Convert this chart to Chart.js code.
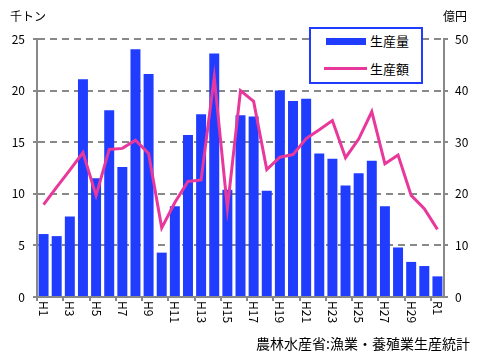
<!DOCTYPE html>
<html>
<head>
<meta charset="utf-8">
<script src="https://cdn.jsdelivr.net/npm/chart.js@4.4.1/dist/chart.umd.min.js"></script>
<style>
  html, body { margin: 0; padding: 0; background: #fff; }
  .wrap { position: relative; width: 480px; height: 360px; font-family: 'Noto Sans CJK JP', sans-serif; color: #000; }
  canvas { position: absolute; left: 0; top: 0; }
  .unit { position: absolute; top: 8px; font-size: 12px; line-height: 16px; }
  .legend { position: absolute; left: 309px; top: 27px; width: 110px; height: 53px; border: 2px solid #1f3cff; background: #fff; }
  .legend .sw { position: absolute; }
  .legend .txt { position: absolute; left: 59px; font-size: 13px; line-height: 18px; }
  .source { position: absolute; right: 10px; top: 334px; font-size: 14px; line-height: 18px; white-space: nowrap; }
</style>
</head>
<body>
<div class="wrap">
  <canvas id="chart" width="480" height="360"></canvas>
  <div class="unit" style="left:10px">千トン</div>
  <div class="unit" style="left:443px">億円</div>
  <div class="legend">
    <div class="sw" style="left:15px; top:9px; width:40px; height:7px; background:#1f3cff"></div>
    <div class="txt" style="top:3px">生産量</div>
    <div class="sw" style="left:13px; top:38px; width:43px; height:3px; background:#e8389c"></div>
    <div class="txt" style="top:31px">生産額</div>
  </div>
  <div class="source">農林水産省:漁業・養殖業生産統計</div>
</div>
<script>
const years = ['H1', 'H2', 'H3', 'H4', 'H5', 'H6', 'H7', 'H8', 'H9', 'H10',
  'H11', 'H12', 'H13', 'H14', 'H15', 'H16', 'H17', 'H18', 'H19', 'H20',
  'H21', 'H22', 'H23', 'H24', 'H25', 'H26', 'H27', 'H28', 'H29', 'H30', 'R1']

// 生産量 (千トン)
const volume = [6.1, 5.9, 7.8, 21.1, 11.5, 18.1, 12.6, 24.0, 21.6, 4.3,
  8.8, 15.7, 17.7, 23.6, 10.4, 17.6, 17.5, 10.3, 20.0, 19.0,
  19.2, 13.9, 13.4, 10.8, 12.0, 13.2, 8.8, 4.8, 3.4, 3.0, 2.0]

// 生産額 (億円)
const amount = [17.9, 21.3, 24.6, 28.0, 19.7, 28.6, 28.8, 30.4, 27.8, 13.4,
  18.3, 22.4, 22.7, 42.6, 17.2, 40.0, 37.9, 24.7, 27.1, 27.6,
  30.7, 32.4, 34.2, 27.0, 30.6, 35.9, 25.8, 27.5, 19.7, 17.1, 13.1]

const GRAY = '#888888'
const FONT = "'Noto Sans CJK JP', sans-serif"

// x labels are drawn turned clockwise, like the original
const xLabels = {
  id: 'xLabels',
  afterDraw (chart) {
    const ctx = chart.ctx
    const xs = chart.scales.x
    ctx.save()
    ctx.font = '12px ' + FONT
    ctx.fillStyle = '#000'
    ctx.textAlign = 'left'
    ctx.textBaseline = 'middle'
    years.forEach((lab, i) => {
      if (i % 2) return
      ctx.save()
      ctx.translate(xs.getPixelForValue(i), xs.top + 4)
      ctx.rotate(Math.PI / 2)
      ctx.fillText(lab, 0, 0)
      ctx.restore()
    })
    ctx.restore()
  }
}

new Chart(document.getElementById('chart'), {
  data: {
    labels: years,
    datasets: [{
      type: 'line',
      label: '生産額',
      data: amount,
      yAxisID: 'y1',
      borderColor: '#e8389c',
      borderWidth: 3,
      pointRadius: 0,
      tension: 0,
      order: 0
    }, {
      type: 'bar',
      label: '生産量',
      data: volume,
      yAxisID: 'y',
      backgroundColor: '#1f3cff',
      barPercentage: 0.76,
      categoryPercentage: 1.0,
      order: 1
    }]
  },
  options: {
    responsive: false,
    animation: false,
    layout: { padding: { top: 39, left: 0, right: 0, bottom: 0 } },
    plugins: {
      legend: { display: false },
      tooltip: { enabled: false }
    },
    scales: {
      x: {
        offset: true,
        ticks: { display: false, autoSkip: false },
        grid: {
          offset: true,
          drawOnChartArea: false,
          tickLength: 4,
          lineWidth: 2,
          color: (c) => (c.index !== undefined && c.index % 2 === 0) ? GRAY : 'rgba(0,0,0,0)'
        },
        border: { color: GRAY, width: 2 },
        afterFit: (s) => { s.height = 63 }
      },
      y: {
        position: 'left',
        min: 0,
        max: 25,
        ticks: { stepSize: 5, color: '#000', padding: 8, font: { family: FONT, size: 12 } },
        grid: { color: GRAY, lineWidth: 2, tickLength: 4 },
        border: { color: GRAY, width: 2, dash: [7, 5] },
        afterFit: (s) => { s.width = 37 }
      },
      y1: {
        position: 'right',
        min: 0,
        max: 50,
        ticks: { stepSize: 10, color: '#000', padding: 7, font: { family: FONT, size: 12 } },
        grid: { drawOnChartArea: false, color: GRAY, lineWidth: 2, tickLength: 4 },
        border: { color: GRAY, width: 2 },
        afterFit: (s) => { s.width = 36 }
      }
    }
  },
  plugins: [xLabels]
})
</script>
</body>
</html>
